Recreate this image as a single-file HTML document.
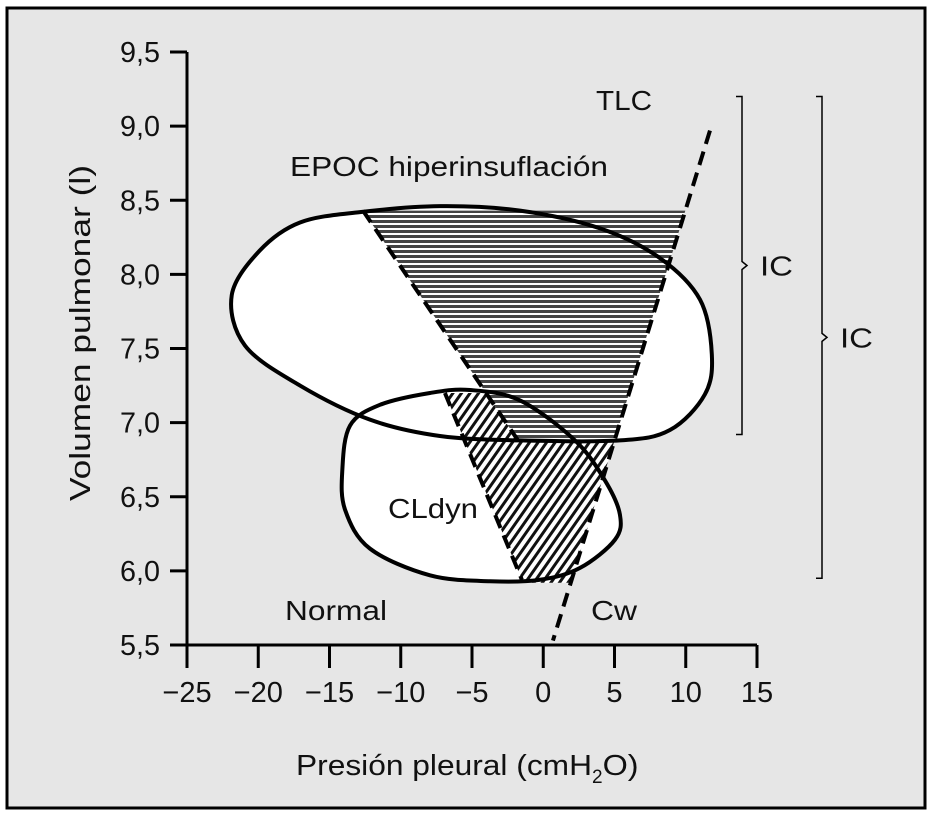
<!DOCTYPE html>
<html><head><meta charset="utf-8"><style>
html,body{margin:0;padding:0;background:#fff}
svg{display:block}
text{font-family:"Liberation Sans",sans-serif;fill:#111}
</style></head><body>
<svg width="933" height="817" viewBox="0 0 933 817">
<defs>
<pattern id="hstripe" width="8" height="5" patternUnits="userSpaceOnUse"><rect width="8" height="5" fill="#fff"/><rect y="0" width="8" height="3" fill="#444"/></pattern>
<pattern id="dstripe" width="7" height="7" patternUnits="userSpaceOnUse" patternTransform="rotate(35)"><rect width="7" height="7" fill="#fff"/><rect width="3" height="7" fill="#111"/></pattern>
</defs>
<rect x="7" y="8" width="918" height="800" fill="#e6e6e6" stroke="#000" stroke-width="3"/>
<g id="plot"></g>
<text x="596" y="110" font-size="28" textLength="56" lengthAdjust="spacingAndGlyphs">TLC</text>
<text x="290" y="176" font-size="28" textLength="318" lengthAdjust="spacingAndGlyphs">EPOC hiperinsuflación</text>
<text x="388" y="518" font-size="28" textLength="90" lengthAdjust="spacingAndGlyphs">CLdyn</text>
<text x="285" y="620" font-size="28" textLength="102" lengthAdjust="spacingAndGlyphs">Normal</text>
<text x="591" y="620" font-size="28" textLength="46" lengthAdjust="spacingAndGlyphs">Cw</text>
<text x="296" y="775" font-size="29"><tspan textLength="296" lengthAdjust="spacingAndGlyphs">Presión pleural (cmH</tspan><tspan font-size="19" dy="8">2</tspan><tspan dy="-8" textLength="36" lengthAdjust="spacingAndGlyphs">O)</tspan></text>
<text transform="translate(90,333) rotate(-90)" font-size="29" text-anchor="middle" textLength="336" lengthAdjust="spacingAndGlyphs">Volumen pulmonar (l)</text>
</svg>
<script>
const xTicks=[-25,-20,-15,-10,-5,0,5,10,15];
const yTicks=[5.5,6.0,6.5,7.0,7.5,8.0,8.5,9.0,9.5];
const yTickLabels=["5,5","6,0","6,5","7,0","7,5","8,0","8,5","9,0","9,5"];
const xTickLabels=["\u221225","\u221220","\u221215","\u221210","\u22125","0","5","10","15"];
const epocLoopP=[-21.86,-19.9,-17.07,-12.86,-7.25,-1.63,3.99,8.19,11.0,11.83,11.34,8.89,5.38,-1.63,-7.25,-12.16,-17.07,-20.93];
const epocLoopV=[7.86,8.16,8.35,8.42,8.46,8.43,8.31,8.11,7.83,7.46,7.19,6.95,6.88,6.88,6.91,7.02,7.25,7.52];
const normalLoopP=[-14.1,-13.56,-11.46,-7.95,-5.14,-1.63,2.23,4.33,5.38,5.03,2.58,-0.23,-3.74,-7.95,-12.16,-13.9];
const normalLoopV=[6.68,6.98,7.12,7.2,7.22,7.15,6.88,6.61,6.38,6.21,6.02,5.94,5.93,5.97,6.15,6.41];
const epocDashP=[-12.65,-1.77], epocDashV=[8.43,6.88];
const normalDashP=[-6.9,-1.5], normalDashV=[7.2,5.94];
const cwLineP=[11.7,0.68], cwLineV=[8.97,5.53];
const epocTop=8.43, epocBottom=6.88, normalTop=7.2, normalBottom=5.92;
const icBraces=[[9.2,6.92],[9.2,5.95]];

const X=p=>543.25+p*14.25, Y=v=>52+(9.5-v)*148.25;
const NS="http://www.w3.org/2000/svg", g=document.getElementById('plot');
function mk(t,a,parent){const e=document.createElementNS(NS,t);for(const k in a)e.setAttribute(k,a[k]);(parent||g).appendChild(e);return e;}
function lineAt(P,V,v){const t=(v-V[0])/(V[1]-V[0]);return P[0]+t*(P[1]-P[0]);}
function smooth(P,V){const n=P.length;const pts=P.map((p,i)=>[X(p),Y(V[i])]);let d=`M${pts[0][0]},${pts[0][1]}`;
for(let i=0;i<n;i++){const p0=pts[(i-1+n)%n],p1=pts[i],p2=pts[(i+1)%n],p3=pts[(i+2)%n];
d+=`C${p1[0]+(p2[0]-p0[0])/6},${p1[1]+(p2[1]-p0[1])/6} ${p2[0]-(p3[0]-p1[0])/6},${p2[1]-(p3[1]-p1[1])/6} ${p2[0]},${p2[1]}`;}return d+'Z';}
function poly(pts){return pts.map(q=>X(q[0])+','+Y(q[1])).join(' ');}

let e;
e=mk('path',{d:smooth(epocLoopP,epocLoopV),fill:'#fff'});


e=mk('path',{d:smooth(normalLoopP,normalLoopV),fill:'#fff'});


const nh=[[lineAt(normalDashP,normalDashV,normalTop),normalTop],[lineAt(epocDashP,epocDashV,normalTop),normalTop],[lineAt(epocDashP,epocDashV,epocBottom),epocBottom],[lineAt(cwLineP,cwLineV,epocBottom),epocBottom],[lineAt(cwLineP,cwLineV,normalBottom),normalBottom],[lineAt(normalDashP,normalDashV,normalBottom),normalBottom]];
e=mk('polygon',{points:poly(nh),fill:'url(#dstripe)'});


const eh=[[lineAt(epocDashP,epocDashV,epocTop),epocTop],[lineAt(cwLineP,cwLineV,epocTop),epocTop],[lineAt(cwLineP,cwLineV,epocBottom),epocBottom],[lineAt(epocDashP,epocDashV,epocBottom),epocBottom]];
e=mk('polygon',{points:poly(eh),fill:'url(#hstripe)'});


e=mk('path',{d:smooth(epocLoopP,epocLoopV),fill:'none',stroke:'#000','stroke-width':4});


e=mk('path',{d:smooth(normalLoopP,normalLoopV),fill:'none',stroke:'#000','stroke-width':4});


[[epocDashP,epocDashV,'epoc-compliance-line'],[normalDashP,normalDashV,'normal-compliance-line'],[cwLineP,cwLineV,'cw-line']].forEach(([P,V,n])=>{
const l=mk('line',{x1:X(P[0]),y1:Y(V[0]),x2:X(P[1]),y2:Y(V[1]),stroke:'#000','stroke-width':4,'stroke-dasharray':'14 8'});

});
e=mk('line',{x1:187,y1:Y(9.5),x2:187,y2:645,stroke:'#000','stroke-width':3});


e=mk('line',{x1:187,y1:645,x2:X(15),y2:645,stroke:'#000','stroke-width':3});


yTicks.forEach((v,i)=>{mk('line',{x1:170,y1:Y(v),x2:187,y2:Y(v),stroke:'#000','stroke-width':3});
const t=mk('text',{x:160,y:Y(v)+10,'text-anchor':'end','font-size':29,textLength:40,lengthAdjust:'spacingAndGlyphs'});t.textContent=yTickLabels[i];

});
xTicks.forEach((p,i)=>{mk('line',{x1:X(p),y1:645,x2:X(p),y2:668,stroke:'#000','stroke-width':3});
const t=mk('text',{x:X(p),y:702,'text-anchor':'middle','font-size':29});t.textContent=xTickLabels[i];

});
[[742,760],[822,840]].forEach(([bx,tx],i)=>{const [a,b]=icBraces[i];const y1=Y(a),y2=Y(b),m=(y1+y2)/2;
const p=mk('path',{d:`M${bx-6},${y1} L${bx},${y1} L${bx},${m-4} L${bx+5},${m} L${bx},${m+4} L${bx},${y2} L${bx-6},${y2}`,fill:'none',stroke:'#000','stroke-width':1.5});


const t=mk('text',{x:tx,y:m+10,'font-size':28,textLength:33,lengthAdjust:'spacingAndGlyphs'});t.textContent='IC';

});
</script>
</body></html>
